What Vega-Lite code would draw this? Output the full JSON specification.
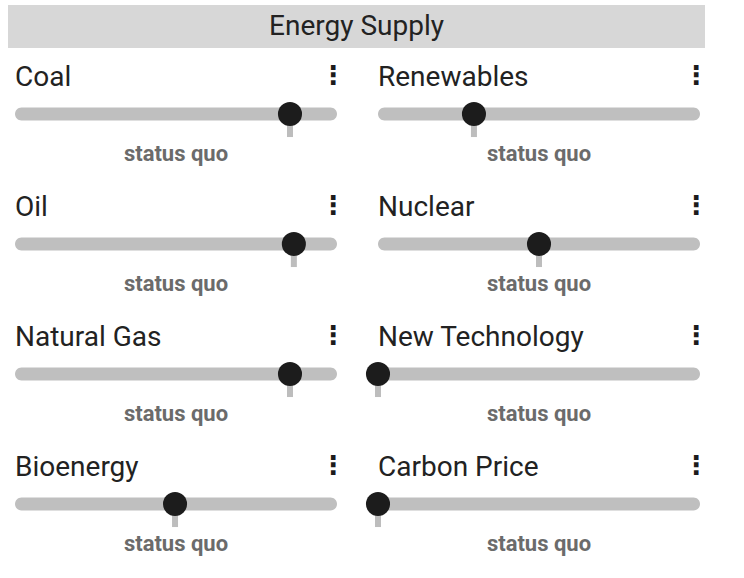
{
  "$schema": "https://vega.github.io/schema/vega-lite/v6.json",
  "padding": {"left": 8, "top": 5, "right": 0, "bottom": 0},
  "background": "white",
  "config": {
    "view": {"stroke": null},
    "concat": {"spacing": 1}
  },
  "datasets": {
    "header": [{"label": "Energy Supply"}],
    "sliders": [
      {"name": "Coal", "value": 0.854, "statusQuo": 0.854},
      {"name": "Renewables", "value": 0.298, "statusQuo": 0.298},
      {"name": "Oil", "value": 0.866, "statusQuo": 0.866},
      {"name": "Nuclear", "value": 0.5, "statusQuo": 0.5},
      {"name": "Natural Gas", "value": 0.854, "statusQuo": 0.854},
      {"name": "New Technology", "value": 0, "statusQuo": 0},
      {"name": "Bioenergy", "value": 0.497, "statusQuo": 0.497},
      {"name": "Carbon Price", "value": 0, "statusQuo": 0}
    ]
  },
  "vconcat": [
    {
      "data": {"name": "header"},
      "width": 697,
      "height": 43,
      "view": {"fill": "#d7d7d7", "stroke": null},
      "mark": {"type": "text", "font": "Roboto", "fontSize": 28, "color": "#222222"},
      "encoding": {"text": {"field": "label", "type": "nominal"}}
    },
    {
      "data": {"name": "sliders"},
      "columns": 2,
      "bounds": "flush",
      "spacing": {"row": 0, "column": 23},
      "facet": {
        "field": "name",
        "type": "nominal",
        "title": null,
        "header": {"labelExpr": "''", "labelFontSize": 0, "labelPadding": 0, "labelLimit": 1},
        "sort": ["Coal", "Renewables", "Oil", "Nuclear", "Natural Gas", "New Technology", "Bioenergy", "Carbon Price"]
      },
      "spec": {
        "width": 340,
        "height": 130,
        "layer": [
          {
            "mark": {"type": "bar", "color": "#bfbfbf", "size": 13, "cornerRadius": 6.5},
            "encoding": {
              "x": {"datum": 0, "type": "quantitative", "scale": {"domain": [0, 1], "range": [7, 329]}, "axis": null},
              "x2": {"datum": 1},
              "y": {"datum": 0, "type": "quantitative", "scale": {"domain": [-1, 1]}, "axis": null}
            }
          },
          {
            "mark": {"type": "point", "filled": true, "opacity": 1, "color": "#bdbdbd", "size": 2304,
                     "shape": "M-0.125,0.45H0.125V0.96H-0.125Z"},
            "encoding": {
              "x": {"field": "statusQuo", "type": "quantitative"},
              "y": {"datum": 0, "type": "quantitative"}
            }
          },
          {
            "mark": {"type": "point", "filled": true, "opacity": 1, "color": "#1c1c1c", "size": 580, "shape": "circle"},
            "encoding": {
              "x": {"field": "value", "type": "quantitative"},
              "y": {"datum": 0, "type": "quantitative"}
            }
          },
          {
            "mark": {"type": "text", "font": "Roboto", "fontSize": 28, "color": "#222222", "align": "left", "baseline": "alphabetic", "dy": -28},
            "encoding": {
              "x": {"datum": 0, "type": "quantitative"},
              "y": {"datum": 0, "type": "quantitative"},
              "text": {"field": "name", "type": "nominal"}
            }
          },
          {
            "mark": {"type": "text", "font": "DejaVu Sans", "fontSize": 26, "fontWeight": "bold", "color": "#1c1c1c", "align": "center", "baseline": "middle", "dy": -38, "dx": -4, "text": "⋮"},
            "encoding": {
              "x": {"datum": 1, "type": "quantitative"},
              "y": {"datum": 0, "type": "quantitative"}
            }
          },
          {
            "mark": {"type": "text", "font": "Roboto", "fontSize": 22, "fontWeight": "bold", "color": "#6b6b6b", "align": "center", "baseline": "alphabetic", "dy": 47, "text": "status quo"},
            "encoding": {
              "x": {"datum": 0.5, "type": "quantitative"},
              "y": {"datum": 0, "type": "quantitative"}
            }
          }
        ]
      }
    }
  ]
}
